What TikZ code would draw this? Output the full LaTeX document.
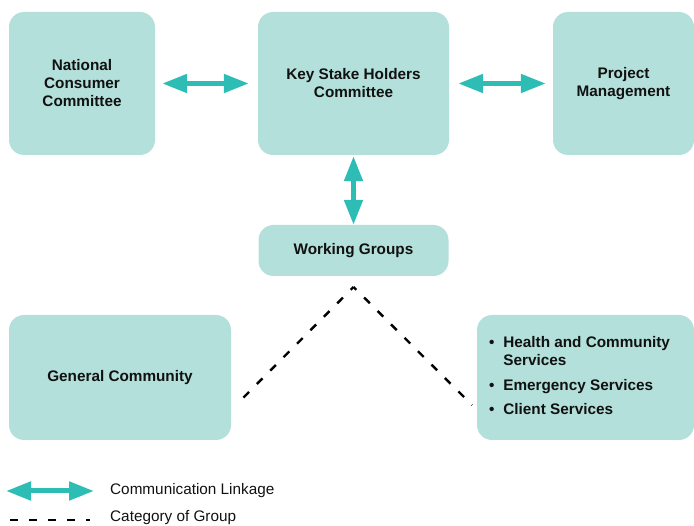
\documentclass[tikz,border=0pt]{standalone}
\usepackage{fontspec}
\setmainfont{Liberation Sans}
\usetikzlibrary{arrows.meta}
\definecolor{boxfill}{HTML}{B3E0DB}
\definecolor{linkteal}{HTML}{2DBDB5}
\definecolor{txt}{HTML}{111111}
\begin{document}
\begin{tikzpicture}[x=1pt,y=-1pt,
  box/.style={fill=boxfill,draw=none,rounded corners=15pt,inner sep=0pt,
    font=\fontsize{15.3}{18}\selectfont\bfseries,text=txt,align=center},
  link/.style={draw=linkteal,line width=5pt,
    {Triangle[length=25pt,width=18pt]}-{Triangle[length=25pt,width=18pt]}},
  category/.style={draw=black,line width=2.4pt,dash pattern=on 8pt off 11pt},
  legendtext/.style={font=\fontsize{15.3}{18}\selectfont,text=txt,anchor=west,inner sep=0pt}]
\useasboundingbox (0,0) rectangle (694,526);
\node[box,minimum width=146pt,minimum height=143pt] (ncc) at (82,83.5) {National\\Consumer\\Committee};
\node[box,minimum width=191pt,minimum height=143pt] (ksh) at (353.5,83.5) {Key Stake Holders\\Committee};
\node[box,minimum width=141pt,minimum height=143pt] (pm) at (623.5,83.5) {Project\\Management};
\node[box,minimum width=190pt,minimum height=51pt] (wg) at (353.5,250.5) {Working Groups};
\node[box,minimum width=222pt,minimum height=125pt] (gc) at (120,377.5) {General Community};
\node[box,minimum width=217pt,minimum height=125pt,align=left] (cs) at (585.5,377.5)
  {\begin{tabular}{@{}l@{\hspace{9pt}}l@{\hspace{12pt}}}
   \textbullet & Health and Community\\
   & Services\\[7pt]
   \textbullet & Emergency Services\\[6pt]
   \textbullet & Client Services
   \end{tabular}};
\draw[link,shorten <=7pt,shorten >=9pt] (ncc.east) -- (ksh.west);
\draw[link,shorten <=9pt,shorten >=7pt] (ksh.east) -- (pm.west);
\draw[link,shorten <=1pt,shorten >=0pt] (ksh.south) -- (wg.north);
\coordinate (apex) at (353.5,287);
\coordinate (gcend) at (236,405);
\coordinate (csend) at (472,405);
\draw[category,dash phase=4pt] (apex) -- (gcend);
\draw[category,dash phase=4pt] (apex) -- (csend);
\coordinate (la1) at (6,491);
\coordinate (la2) at (94,491);
\draw[link] (la1) -- (la2);
\coordinate (ld1) at (10,520);
\coordinate (ld2) at (90,520);
\draw[category,line width=2.8pt,dash pattern=on 7.5pt off 11.5pt] (ld1) -- (ld2);
\node[legendtext] (lt1) at (110,491) {Communication Linkage};
\node[legendtext] (lt2) at (110,518) {Category of Group};
\end{tikzpicture}
\end{document}
